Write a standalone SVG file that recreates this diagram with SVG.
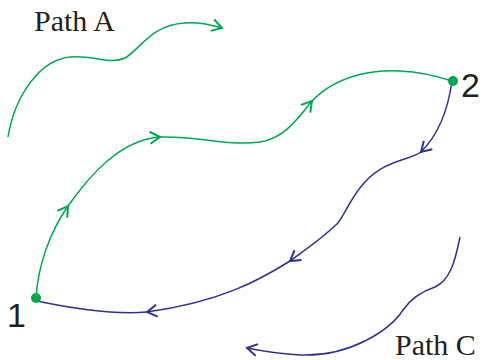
<svg xmlns="http://www.w3.org/2000/svg" width="483" height="360" viewBox="0 0 483 360">
<defs>
<style>
.g{fill:none;stroke:#00a651;stroke-width:1.5}
.b{fill:none;stroke:#2e3192;stroke-width:1.5}
.lbl{font-family:"Liberation Serif","Times New Roman",serif;font-size:30px;fill:#231f20}
.num{font-family:"Liberation Sans",Arial,sans-serif;font-size:34px;fill:#231f20}
</style>
<marker id="ag" markerUnits="userSpaceOnUse" markerWidth="24" markerHeight="24" refX="0" refY="0" viewBox="-12 -12 24 24" orient="auto" overflow="visible">
<path d="M-10,-6 L0,0 L-10,6" fill="none" stroke="#00a651" stroke-width="2"/>
</marker>
<marker id="ab" markerUnits="userSpaceOnUse" markerWidth="24" markerHeight="24" refX="0" refY="0" viewBox="-12 -12 24 24" orient="auto" overflow="visible">
<path d="M-10,-6 L0,0 L-10,6" fill="none" stroke="#2e3192" stroke-width="2"/>
</marker>
</defs>
<rect width="483" height="360" fill="#fff"/>
<g id="connectors">
<path class="g" d="M8,137 C15,95 40,60 70,57 C95,55 110,65 125,58 C140,50 150,25 185,23 C200,22 212,25 222,28" marker-end="url(#ag)"/>
<path class="g" d="M36,298 C38,265 50,232 68,206" marker-end="url(#ag)"/>
<path class="g" d="M68,206 C90,175 120,140 160,137" marker-end="url(#ag)"/>
<path class="g" d="M160,137 C200,136 225,146 260,142 C285,138 298,118 312,101" marker-end="url(#ag)"/>
<path class="g" d="M312,101 C340,72 380,70 400,71 C420,72 440,77 452,81"/>
<path class="b" d="M452,81 C448,110 438,135 421,152" marker-end="url(#ab)"/>
<path class="b" d="M421,152 C410,160 385,160 365,182 C350,198 345,215 337,224 C320,240 305,250 290,261" marker-end="url(#ab)"/>
<path class="b" d="M290,261 C260,280 220,302 147,312" marker-end="url(#ab)"/>
<path class="b" d="M147,312 C110,315 70,308 37,301"/>
<path class="b" d="M460,237 C455,262 450,280 435,287 C420,292 410,300 403,310 C390,330 350,357 300,355 C280,354 262,351 247,348" marker-end="url(#ab)"/>
</g>
<g id="node1">
<circle cx="36" cy="298" r="5" fill="#00a651"/>
<text class="num" x="7" y="327">1</text>
</g>
<g id="node2">
<circle cx="453" cy="81" r="5" fill="#00a651"/>
<text class="num" x="461" y="97">2</text>
</g>
<g id="pathA">
<text class="lbl" x="34" y="31">Path A</text>
</g>
<g id="pathC">
<text class="lbl" x="395" y="355">Path C</text>
</g>
</svg>
